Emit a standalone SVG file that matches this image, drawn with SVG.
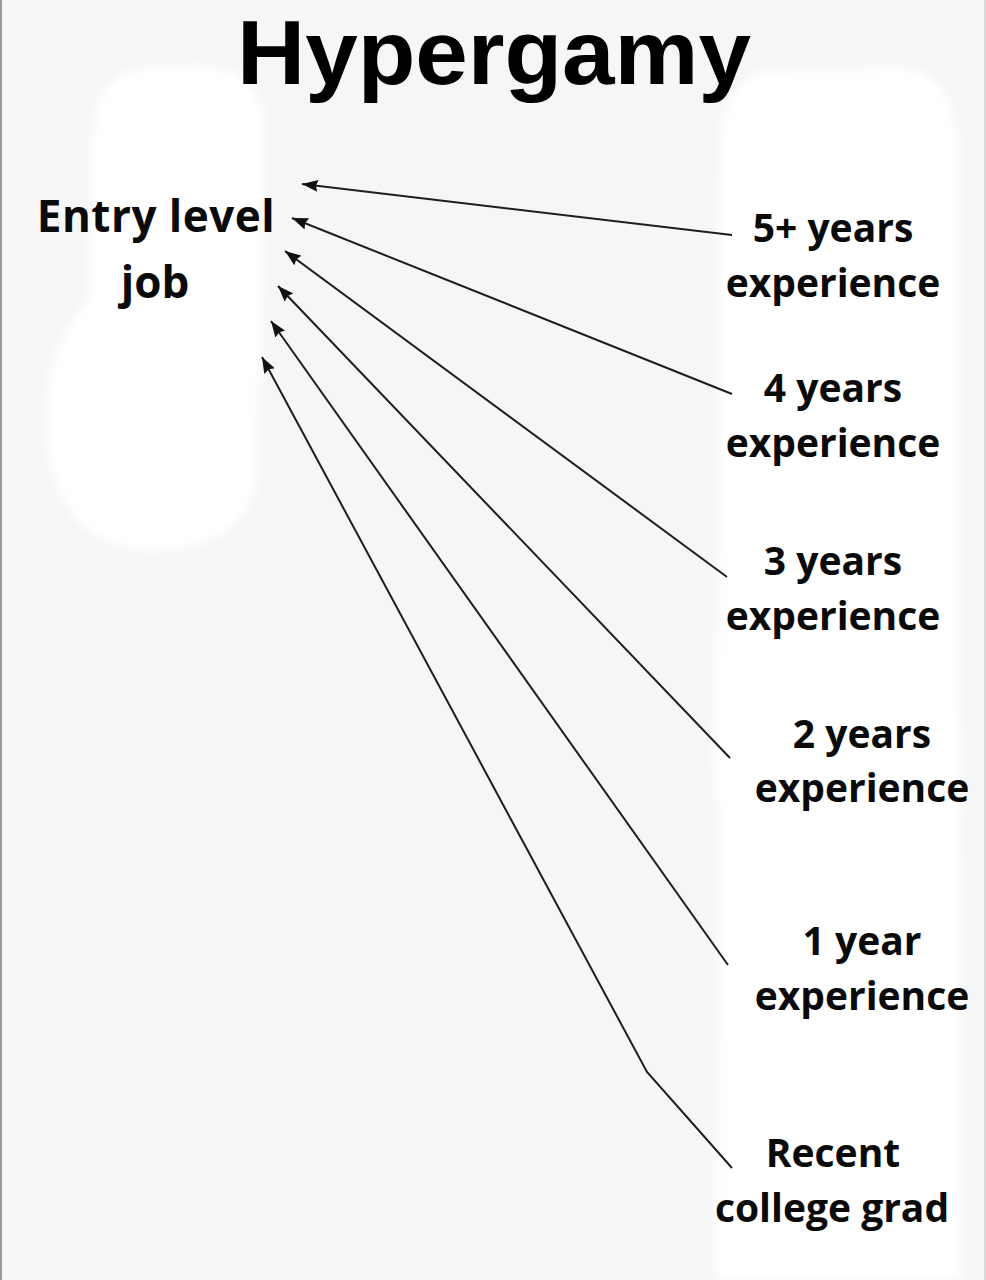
<svg xmlns="http://www.w3.org/2000/svg" width="986" height="1280" viewBox="0 0 986 1280">
<style>
.title{font-family:"Liberation Sans",Arial,sans-serif;font-weight:700;font-size:90px;fill:#000}
.lbl{font-family:"Open Sans","Noto Sans",sans-serif;font-weight:700;font-size:39px;fill:#0a0a0a;text-anchor:middle}
.src{font-family:"Open Sans","Noto Sans",sans-serif;font-weight:700;font-size:44px;fill:#0a0a0a;text-anchor:middle}
.conn{fill:none;stroke:#1e1e1e;stroke-width:2;marker-end:url(#ah)}
</style>
<defs>
<marker id="ah" viewBox="0 0 16 12" refX="16" refY="6" markerWidth="16" markerHeight="12" markerUnits="userSpaceOnUse" orient="auto">
<path d="M0,0 L16,6 L0,12 L2,6 Z" fill="#111"/>
</marker>
<filter id="soft" x="-10%" y="-10%" width="120%" height="120%"><feGaussianBlur stdDeviation="5"/></filter>
</defs>
<rect x="0" y="0" width="986" height="1280" fill="#f6f6f6"/>
<g id="background" fill="#ffffff" filter="url(#soft)">
<path d="M150,68 Q94,70 92,140 L90,300 Q46,340 46,420 Q50,548 152,550 Q252,550 258,470 L264,130 Q264,68 200,66 Z"/>
<path d="M770,70 Q722,76 720,150 L716,700 Q712,760 718,820 L716,1280 L962,1280 L960,820 Q964,760 958,700 L958,150 Q955,70 900,68 Z"/>
</g>
<line x1="1" y1="0" x2="1" y2="1280" stroke="#9a9a9a" stroke-width="2"/>
<line x1="985" y1="0" x2="985" y2="1280" stroke="#d0d0d0" stroke-width="1.5"/>
<g id="title"><text class="title" x="494" y="84" text-anchor="middle" textLength="514" lengthAdjust="spacingAndGlyphs">Hypergamy</text></g>
<g id="connectors">
<path class="conn" d="M732,235 L302,184"/>
<path class="conn" d="M732,394 L292,218"/>
<path class="conn" d="M727,577 L285,251"/>
<path class="conn" d="M730,758 L278,286"/>
<path class="conn" d="M728,965 L271,321"/>
<path class="conn" d="M732,1168 L647,1072 L262,357"/>
</g>
<g id="entry-level-job"><text class="src" x="156" y="232" letter-spacing="0.5">Entry level</text><text class="src" x="155" y="298">job</text></g>
<g id="five-plus-years"><text class="lbl" x="833" y="242">5+ years</text><text class="lbl" x="833" y="297">experience</text></g>
<g id="four-years"><text class="lbl" x="833" y="402">4 years</text><text class="lbl" x="833" y="457">experience</text></g>
<g id="three-years"><text class="lbl" x="833" y="575">3 years</text><text class="lbl" x="833" y="630">experience</text></g>
<g id="two-years"><text class="lbl" x="862" y="748">2 years</text><text class="lbl" x="862" y="802">experience</text></g>
<g id="one-year"><text class="lbl" x="862" y="955">1 year</text><text class="lbl" x="862" y="1010">experience</text></g>
<g id="recent-grad"><text class="lbl" x="833" y="1167">Recent</text><text class="lbl" x="832" y="1222">college grad</text></g>
</svg>
